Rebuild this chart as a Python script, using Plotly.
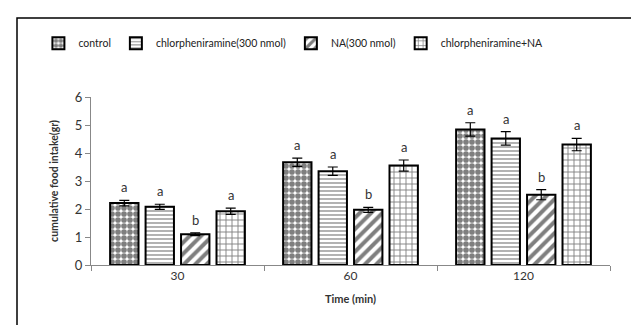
import plotly.graph_objects as go

categories = ["30", "60", "120"]
series_names = ["control", "chlorpheniramine(300 nmol)", "NA(300 nmol)", "chlorpheniramine+NA"]
control = [2.21, 3.67, 4.84]
chlor = [2.08, 3.35, 4.52]
na = [1.10, 1.97, 2.51]
chlor_na = [1.92, 3.55, 4.30]
control_err = [0.10, 0.15, 0.24]
chlor_err = [0.09, 0.15, 0.24]
na_err = [0.05, 0.09, 0.18]
chlor_na_err = [0.11, 0.20, 0.22]
letters_control = ["a", "a", "a"]
letters_chlor = ["a", "a", "a"]
letters_na = ["b", "b", "b"]
letters_chlor_na = ["a", "a", "a"]

values = [control, chlor, na, chlor_na]
errors = [control_err, chlor_err, na_err, chlor_na_err]
letters = [letters_control, letters_chlor, letters_na, letters_chlor_na]
patterns = [
    dict(shape=".", size=6, solidity=0.7, fgcolor="black", bgcolor="white"),
    dict(shape="-", size=4, solidity=0.3, fgcolor="black", bgcolor="white"),
    dict(shape="/", size=8, solidity=0.5, fgcolor="black", bgcolor="white"),
    dict(shape="+", size=6, solidity=0.28, fgcolor="black", bgcolor="white"),
]

W, H = 639, 325
ml, mr, mt, mb = 83, 37, 89, 68
bargap = 0.18
n = len(series_names)
FONT = "Lato, Open Sans, sans-serif"

fig = go.Figure()
for name, v, e, p in zip(series_names, values, errors, patterns):
    fig.add_trace(go.Bar(
        name=name, x=categories, y=v,
        marker=dict(color="white", line=dict(color="black", width=2), pattern=p),
        error_y=dict(type="data", array=e, color="black", thickness=1.2, width=5),
    ))

plot_w = W - ml - mr
cat_w = plot_w / len(categories)
slot = (1 - bargap) * cat_w / n
for i, (v, e, lt) in enumerate(zip(values, errors, letters)):
    shift = (i - (n - 1) / 2) * slot
    for j, (yy, ee, t) in enumerate(zip(v, e, lt)):
        fig.add_annotation(x=j, y=yy + ee, text=t, showarrow=False, xshift=shift,
                           yanchor="bottom", yshift=3,
                           font=dict(family=FONT, size=13, color="#333"))

fig.add_shape(type="rect", xref="paper", yref="paper",
              x0=(9 - ml) / plot_w, x1=(645 - ml) / plot_w,
              y0=(H - mb - 330) / (H - mt - mb), y1=(H - mb - 10) / (H - mt - mb),
              line=dict(color="black", width=1.5), fillcolor="rgba(0,0,0,0)", layer="below")

fig.update_layout(
    width=W, height=H,
    margin=dict(l=ml, r=mr, t=mt, b=mb),
    paper_bgcolor="white", plot_bgcolor="white",
    barmode="group", bargap=bargap, bargroupgap=0.2,
    font=dict(family=FONT, color="#333", size=12),
    showlegend=True,
    legend=dict(orientation="h", x=0.39, xanchor="center", y=1.32, yanchor="middle",
                font=dict(size=10.5, color="#222"), itemwidth=30,
                traceorder="normal", tracegroupgap=0),
    xaxis=dict(type="category", range=[-0.5, len(categories) - 0.5], showline=True,
               linecolor="#888", linewidth=1, ticks="outside",
               tickson="boundaries", tickcolor="#888", ticklen=5,
               title=dict(text="<b>Time (min)</b>", font=dict(size=11, color="#333"), standoff=12),
               tickfont=dict(size=12, color="#333")),
    yaxis=dict(range=[0, 6], dtick=1, showline=True, linecolor="#888", linewidth=1,
               ticks="outside", tickcolor="#888", ticklen=5, showgrid=False, zeroline=False,
               title=dict(text="<b>cumulative food intake(gr)</b>", font=dict(size=10.5, color="#333"), standoff=14),
               tickfont=dict(size=13, color="#333")),
)

fig.write_html("out.html")
